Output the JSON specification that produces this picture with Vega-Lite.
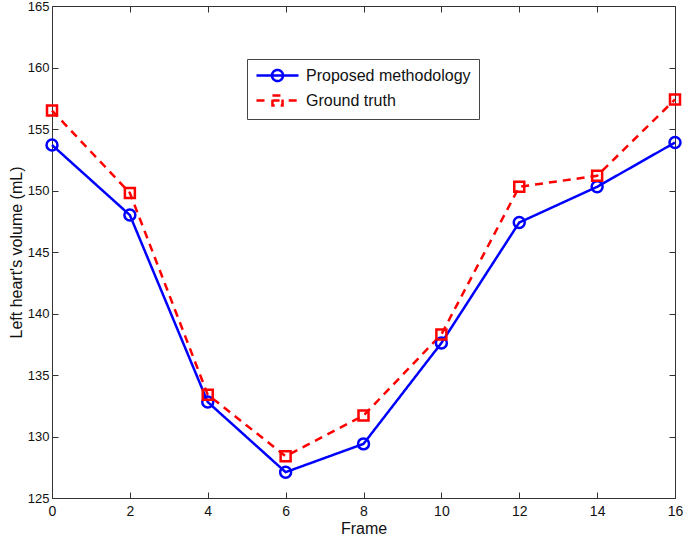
{
  "$schema": "https://vega.github.io/schema/vega-lite/v6.json",
  "autosize": {"type": "none"},
  "padding": {"left": 52, "top": 6, "right": 10, "bottom": 40},
  "width": 623,
  "height": 492,
  "background": "white",
  "config": {
    "font": "Liberation Sans",
    "view": {"stroke": "#333", "strokeWidth": 1},
    "axis": {"grid": false, "domainColor": "#333", "tickColor": "#333", "labelColor": "#111", "titleColor": "#111", "titleFontWeight": "normal", "labelFont": "Liberation Sans", "titleFont": "Liberation Sans"}
  },
  "data": {"values": [
    {"frame": 0, "series": "Proposed methodology", "volume": 153.7},
    {"frame": 2, "series": "Proposed methodology", "volume": 148.0},
    {"frame": 4, "series": "Proposed methodology", "volume": 132.8},
    {"frame": 6, "series": "Proposed methodology", "volume": 127.1},
    {"frame": 8, "series": "Proposed methodology", "volume": 129.4},
    {"frame": 10, "series": "Proposed methodology", "volume": 137.6},
    {"frame": 12, "series": "Proposed methodology", "volume": 147.4},
    {"frame": 14, "series": "Proposed methodology", "volume": 150.3},
    {"frame": 16, "series": "Proposed methodology", "volume": 153.9},
    {"frame": 0, "series": "Ground truth", "volume": 156.5},
    {"frame": 2, "series": "Ground truth", "volume": 149.8},
    {"frame": 4, "series": "Ground truth", "volume": 133.4},
    {"frame": 6, "series": "Ground truth", "volume": 128.4},
    {"frame": 8, "series": "Ground truth", "volume": 131.7},
    {"frame": 10, "series": "Ground truth", "volume": 138.3},
    {"frame": 12, "series": "Ground truth", "volume": 150.3},
    {"frame": 14, "series": "Ground truth", "volume": 151.2},
    {"frame": 16, "series": "Ground truth", "volume": 157.4}
  ]},
  "layer": [
    {
      "mark": {"type": "line", "strokeWidth": 2.5},
      "encoding": {
        "x": {"field": "frame", "type": "quantitative", "scale": {"domain": [0, 16], "nice": false},
              "axis": {"orient": "bottom", "title": "Frame", "values": [0,2,4,6,8,10,12,14,16], "tickSize": -6, "labelPadding": 12, "labelFontSize": 14, "titleFontSize": 16, "titlePadding": 2, "labelFlush": false}},
        "y": {"field": "volume", "type": "quantitative", "scale": {"domain": [125, 165], "nice": false, "zero": false},
              "axis": {"orient": "left", "title": "Left heart's volume (mL)", "values": [125,130,135,140,145,150,155,160,165], "tickSize": -6, "labelPadding": 9, "labelFontSize": 13, "titleFontSize": 16, "titlePadding": 3, "labelFlush": false}},
        "color": {"field": "series", "type": "nominal",
                  "scale": {"domain": ["Proposed methodology", "Ground truth"], "range": ["#0000ff", "#ff0000"]},
                  "legend": {"title": null, "orient": "none", "legendX": 195, "legendY": 53,
                             "labelFontSize": 16, "labelFont": "Liberation Sans", "labelColor": "#111", "labelLimit": 400,
                             "symbolSize": 196, "symbolStrokeWidth": 2.5, "labelOffset": 34,
                             "padding": 8, "rowPadding": 3, "strokeColor": "#444", "fillColor": "white",
                             "encode": {"symbols": {"update": {
                               "shape": {"signal": "datum.value === 'Ground truth' ? 'M-1,0H0.6M1.3,0H2.3M1.28,-0.72H2.72V0.72H1.28ZM3.6,0H5' : 'M-1,0H5M1.21,0A0.79,0.79,0,1,0,2.79,0A0.79,0.79,0,1,0,1.21,0'"},
                               "fill": {"value": "transparent"},
                               "strokeDash": {"value": []}
                             }}}}},
        "strokeDash": {"field": "series", "type": "nominal",
                       "scale": {"domain": ["Proposed methodology", "Ground truth"], "range": [[1, 0], [8, 6]]},
                       "legend": null}
      }
    },
    {
      "transform": [{"filter": "datum.series === 'Proposed methodology'"}],
      "mark": {"type": "point", "shape": "circle", "filled": false, "strokeWidth": 2.5, "size": 120, "opacity": 1, "color": "#0000ff"},
      "encoding": {
        "x": {"field": "frame", "type": "quantitative", "scale": {"domain": [0, 16], "nice": false},
              "axis": {"orient": "top", "title": null, "labels": false, "values": [0,2,4,6,8,10,12,14,16], "tickSize": -6, "domain": false}},
        "y": {"field": "volume", "type": "quantitative", "scale": {"domain": [125, 165], "nice": false, "zero": false},
              "axis": {"orient": "right", "title": null, "labels": false, "values": [125,130,135,140,145,150,155,160,165], "tickSize": -6, "domain": false}}
      }
    },
    {
      "transform": [{"filter": "datum.series === 'Ground truth'"}],
      "mark": {"type": "point", "shape": "square", "filled": false, "strokeWidth": 2.5, "size": 100, "opacity": 1, "color": "#ff0000"},
      "encoding": {
        "x": {"field": "frame", "type": "quantitative", "scale": {"domain": [0, 16], "nice": false}, "axis": null},
        "y": {"field": "volume", "type": "quantitative", "scale": {"domain": [125, 165], "nice": false, "zero": false}, "axis": null}
      }
    }
  ],
  "resolve": {"axis": {"x": "independent", "y": "independent"}}
}
